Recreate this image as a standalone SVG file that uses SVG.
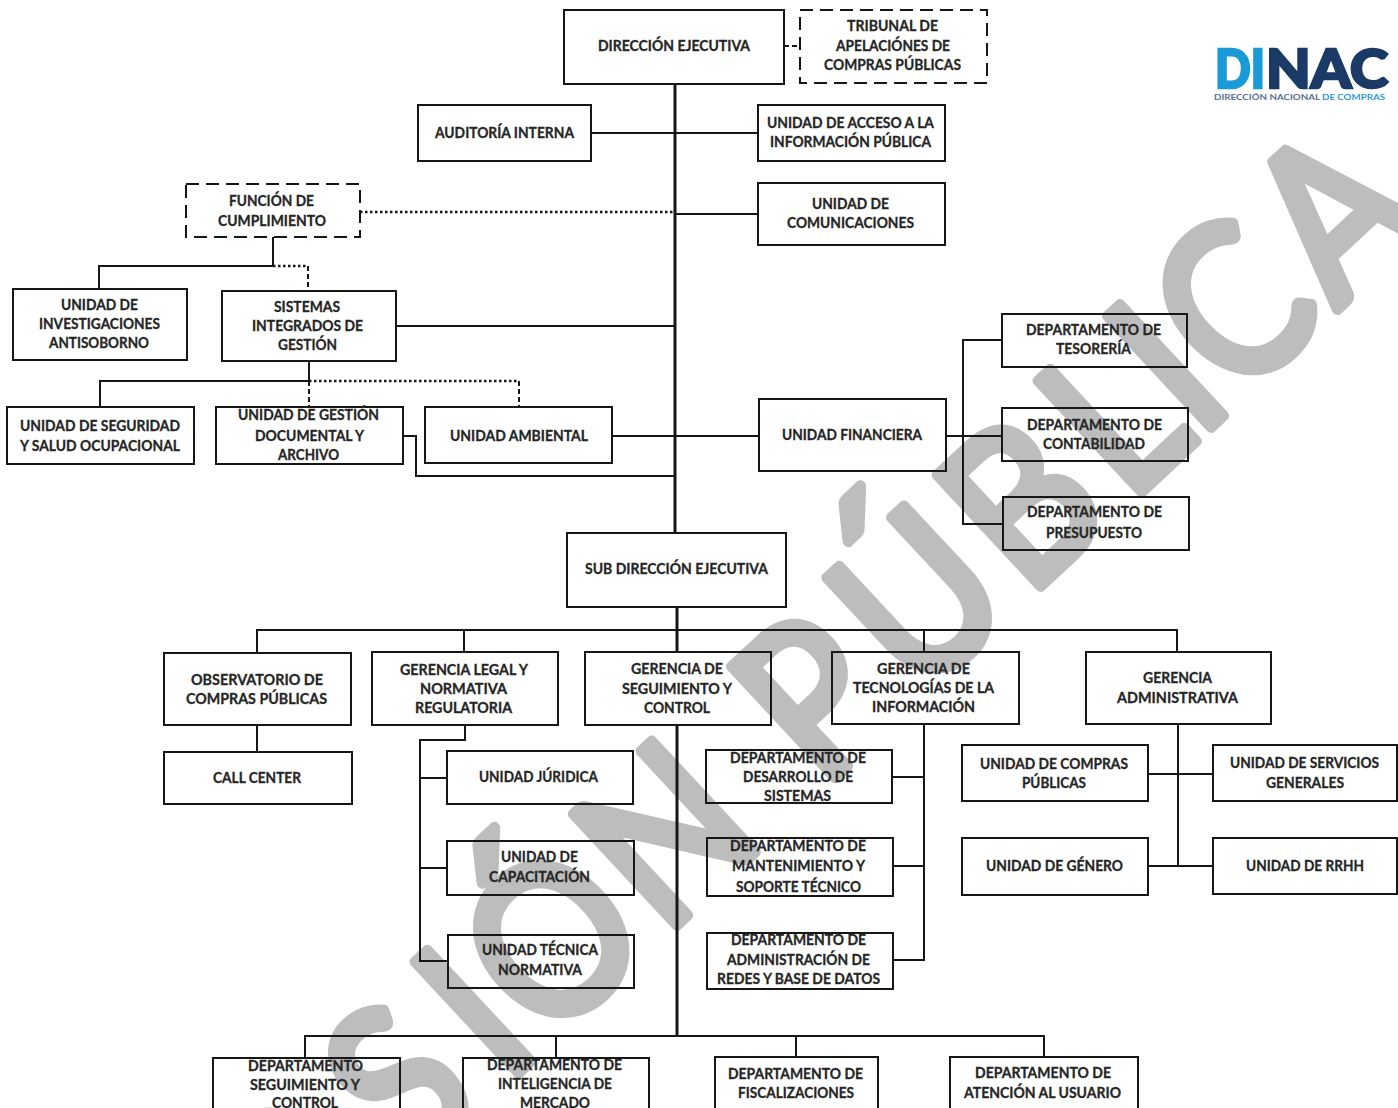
<svg xmlns="http://www.w3.org/2000/svg" width="1398" height="1108" viewBox="0 0 1398 1108">
<style>
.b{fill:none;stroke:#161616;stroke-width:2}
.d{fill:none;stroke:#161616;stroke-width:2;stroke-dasharray:13 7}
text{font-family:Lato,"Open Sans",sans-serif}
.t{font-size:14.5px;font-weight:700;fill:#262626;stroke:#262626;stroke-width:.3px;text-anchor:middle}
.c path{fill:none;stroke:#161616;stroke-width:2}
.c .k{stroke-width:3}
.c .o{stroke-dasharray:2.5 2.5;stroke-width:2.5}
.c .h{stroke-dasharray:5 3}
.w{font-size:212px;fill:#bdbdbd;stroke:#bdbdbd;stroke-width:11px;stroke-linejoin:round}
</style>
<rect width="1398" height="1108" fill="#fff"/>
<text id="watermark" class="w" transform="translate(525,1067) rotate(-43) scale(.88,1)" x="-636 -477 -352 -175 -30 36 216 400 462 612 781 938 1046 1108 1261">VERSIÓN PÚBLICA</text>
<g id="logo">
<text x="1215" y="88" font-size="53" font-weight="900" fill="#1a9ad6" stroke="#1a9ad6" stroke-width="2.5" textLength="50" lengthAdjust="spacingAndGlyphs">DI</text>
<text x="1266" y="88" font-size="53" font-weight="900" fill="#1b3a66" stroke="#1b3a66" stroke-width="2.5" textLength="122" lengthAdjust="spacingAndGlyphs">NAC</text>
<text x="1214" y="100" font-size="8" font-weight="700" fill="#5a6f94" textLength="106" lengthAdjust="spacingAndGlyphs">DIRECCIÓN NACIONAL</text>
<text x="1322" y="100" font-size="8" font-weight="700" fill="#2f97d4" textLength="63" lengthAdjust="spacingAndGlyphs">DE COMPRAS</text>
</g>
<g id="connectors" class="c">
<path class="k" d="M675 84V533M677 607V652M677 725V1036"/>
<path d="M591 133H758M676 214H758M396 326H675M612 436H759M946 436H1002"/>
<path class="h" d="M784 46H800"/>
<path class="o" d="M360 212H675"/>
<path d="M273 237V266H99V289"/>
<path class="o" d="M273 266H308"/><path class="h" d="M308 266V291"/>
<path d="M309 361V381H100V407"/>
<path class="h" d="M309 381V407M519 381V407"/><path class="o" d="M309 381H519"/>
<path d="M403 436H416V476H676"/>
<path d="M1002 340H963V524H1003"/>
<path d="M257 653V630H1177V652M464 630V652M924 630V652"/>
<path d="M257 725V752"/>
<path d="M465 725V740H420V961H448M420 778H447M420 868H447"/>
<path d="M924 724V960H893M893 777H924M893 866H924"/>
<path d="M1178 724V866M1148 774H1213M1148 866H1213"/>
<path d="M305 1058V1036H1044V1057M556 1036V1058M796 1036V1057"/>
</g>
<g id="n1"><rect class="b" x="564" y="10" width="220" height="74"/><text class="t" x="674" y="51" textLength="152" lengthAdjust="spacingAndGlyphs">DIRECCIÓN EJECUTIVA</text></g>
<g id="n2"><rect class="d" x="800" y="10" width="187" height="73"/><text class="t" x="892.5" y="31" textLength="91" lengthAdjust="spacingAndGlyphs">TRIBUNAL DE</text><text class="t" x="893" y="51" textLength="114" lengthAdjust="spacingAndGlyphs">APELACIÓNES DE</text><text class="t" x="892.5" y="70" textLength="137" lengthAdjust="spacingAndGlyphs">COMPRAS PÚBLICAS</text></g>
<g id="n3"><rect class="b" x="418" y="105" width="173" height="56"/><text class="t" x="504.5" y="138" textLength="139" lengthAdjust="spacingAndGlyphs">AUDITORÍA INTERNA</text></g>
<g id="n4"><rect class="b" x="758" y="105" width="187" height="56"/><text class="t" x="850.5" y="128" textLength="167" lengthAdjust="spacingAndGlyphs">UNIDAD DE ACCESO A LA</text><text class="t" x="850.5" y="147" textLength="161" lengthAdjust="spacingAndGlyphs">INFORMACIÓN PÚBLICA</text></g>
<g id="n5"><rect class="b" x="758" y="183" width="187" height="62"/><text class="t" x="850.5" y="209" textLength="77" lengthAdjust="spacingAndGlyphs">UNIDAD DE</text><text class="t" x="850.5" y="228" textLength="127" lengthAdjust="spacingAndGlyphs">COMUNICACIONES</text></g>
<g id="n6"><rect class="d" x="186" y="184" width="174" height="53"/><text class="t" x="271.5" y="206" textLength="85" lengthAdjust="spacingAndGlyphs">FUNCIÓN DE</text><text class="t" x="272" y="226" textLength="108" lengthAdjust="spacingAndGlyphs">CUMPLIMIENTO</text></g>
<g id="n7"><rect class="b" x="13" y="289" width="174" height="71"/><text class="t" x="99.5" y="310" textLength="77" lengthAdjust="spacingAndGlyphs">UNIDAD DE</text><text class="t" x="99.5" y="329" textLength="121" lengthAdjust="spacingAndGlyphs">INVESTIGACIONES</text><text class="t" x="99" y="348" textLength="100" lengthAdjust="spacingAndGlyphs">ANTISOBORNO</text></g>
<g id="n8"><rect class="b" x="222" y="291" width="174" height="70"/><text class="t" x="307" y="312" textLength="66" lengthAdjust="spacingAndGlyphs">SISTEMAS</text><text class="t" x="307.5" y="331" textLength="111" lengthAdjust="spacingAndGlyphs">INTEGRADOS DE</text><text class="t" x="307.5" y="350" textLength="59" lengthAdjust="spacingAndGlyphs">GESTIÓN</text></g>
<g id="n9"><rect class="b" x="7" y="407" width="187" height="57"/><text class="t" x="100" y="431" textLength="160" lengthAdjust="spacingAndGlyphs">UNIDAD DE SEGURIDAD</text><text class="t" x="100" y="451" textLength="160" lengthAdjust="spacingAndGlyphs">Y SALUD OCUPACIONAL</text></g>
<g id="n10"><rect class="b" x="216" y="407" width="187" height="57"/><text class="t" x="308.5" y="420" textLength="141" lengthAdjust="spacingAndGlyphs">UNIDAD DE GESTIÓN</text><text class="t" x="309.5" y="441" textLength="109" lengthAdjust="spacingAndGlyphs">DOCUMENTAL Y</text><text class="t" x="308.5" y="460" textLength="61" lengthAdjust="spacingAndGlyphs">ARCHIVO</text></g>
<g id="n11"><rect class="b" x="425" y="407" width="187" height="56"/><text class="t" x="519" y="441" textLength="138" lengthAdjust="spacingAndGlyphs">UNIDAD AMBIENTAL</text></g>
<g id="n12"><rect class="b" x="759" y="399" width="187" height="72"/><text class="t" x="852" y="440" textLength="140" lengthAdjust="spacingAndGlyphs">UNIDAD FINANCIERA</text></g>
<g id="n13"><rect class="b" x="1002" y="314" width="185" height="53"/><text class="t" x="1093.5" y="335" textLength="135" lengthAdjust="spacingAndGlyphs">DEPARTAMENTO DE</text><text class="t" x="1093.5" y="354" textLength="75" lengthAdjust="spacingAndGlyphs">TESORERÍA</text></g>
<g id="n14"><rect class="b" x="1002" y="408" width="186" height="53"/><text class="t" x="1094.5" y="430" textLength="135" lengthAdjust="spacingAndGlyphs">DEPARTAMENTO DE</text><text class="t" x="1094" y="449" textLength="102" lengthAdjust="spacingAndGlyphs">CONTABILIDAD</text></g>
<g id="n15"><rect class="b" x="1003" y="497" width="186" height="53"/><text class="t" x="1094.5" y="517" textLength="135" lengthAdjust="spacingAndGlyphs">DEPARTAMENTO DE</text><text class="t" x="1094" y="538" textLength="96" lengthAdjust="spacingAndGlyphs">PRESUPUESTO</text></g>
<g id="n16"><rect class="b" x="567" y="533" width="219" height="74"/><text class="t" x="676.5" y="574" textLength="183" lengthAdjust="spacingAndGlyphs">SUB DIRECCIÓN EJECUTIVA</text></g>
<g id="n17"><rect class="b" x="164" y="653" width="187" height="72"/><text class="t" x="257" y="685" textLength="132" lengthAdjust="spacingAndGlyphs">OBSERVATORIO DE</text><text class="t" x="256.5" y="704" textLength="141" lengthAdjust="spacingAndGlyphs">COMPRAS PÚBLICAS</text></g>
<g id="n18"><rect class="b" x="372" y="652" width="186" height="73"/><text class="t" x="464" y="675" textLength="128" lengthAdjust="spacingAndGlyphs">GERENCIA LEGAL Y</text><text class="t" x="463.5" y="694" textLength="87" lengthAdjust="spacingAndGlyphs">NORMATIVA</text><text class="t" x="463.5" y="713" textLength="97" lengthAdjust="spacingAndGlyphs">REGULATORIA</text></g>
<g id="n19"><rect class="b" x="585" y="652" width="186" height="73"/><text class="t" x="677" y="674" textLength="92" lengthAdjust="spacingAndGlyphs">GERENCIA DE</text><text class="t" x="677" y="694" textLength="110" lengthAdjust="spacingAndGlyphs">SEGUIMIENTO Y</text><text class="t" x="677" y="713" textLength="66" lengthAdjust="spacingAndGlyphs">CONTROL</text></g>
<g id="n20"><rect class="b" x="832" y="652" width="187" height="72"/><text class="t" x="923.5" y="674" textLength="93" lengthAdjust="spacingAndGlyphs">GERENCIA DE</text><text class="t" x="923.5" y="693" textLength="141" lengthAdjust="spacingAndGlyphs">TECNOLOGÍAS DE LA</text><text class="t" x="923.5" y="712" textLength="103" lengthAdjust="spacingAndGlyphs">INFORMACIÓN</text></g>
<g id="n21"><rect class="b" x="1086" y="652" width="185" height="72"/><text class="t" x="1177.5" y="683" textLength="69" lengthAdjust="spacingAndGlyphs">GERENCIA</text><text class="t" x="1177.5" y="703" textLength="121" lengthAdjust="spacingAndGlyphs">ADMINISTRATIVA</text></g>
<g id="n22"><rect class="b" x="164" y="752" width="188" height="52"/><text class="t" x="257" y="783" textLength="88" lengthAdjust="spacingAndGlyphs">CALL CENTER</text></g>
<g id="n23"><rect class="b" x="447" y="751" width="186" height="53"/><text class="t" x="538.5" y="782" textLength="119" lengthAdjust="spacingAndGlyphs">UNIDAD JÚRIDICA</text></g>
<g id="n24"><rect class="b" x="447" y="841" width="187" height="54"/><text class="t" x="539.5" y="862" textLength="77" lengthAdjust="spacingAndGlyphs">UNIDAD DE</text><text class="t" x="539.5" y="882" textLength="101" lengthAdjust="spacingAndGlyphs">CAPACITACIÓN</text></g>
<g id="n25"><rect class="b" x="448" y="935" width="186" height="53"/><text class="t" x="540" y="955" textLength="116" lengthAdjust="spacingAndGlyphs">UNIDAD TÉCNICA</text><text class="t" x="540" y="975" textLength="84" lengthAdjust="spacingAndGlyphs">NORMATIVA</text></g>
<g id="n26"><rect class="b" x="706" y="750" width="186" height="53"/><text class="t" x="798" y="763" textLength="136" lengthAdjust="spacingAndGlyphs">DEPARTAMENTO DE</text><text class="t" x="798" y="782" textLength="110" lengthAdjust="spacingAndGlyphs">DESARROLLO DE</text><text class="t" x="797.5" y="801" textLength="67" lengthAdjust="spacingAndGlyphs">SISTEMAS</text></g>
<g id="n27"><rect class="b" x="707" y="838" width="186" height="58"/><text class="t" x="798" y="851" textLength="136" lengthAdjust="spacingAndGlyphs">DEPARTAMENTO DE</text><text class="t" x="798.5" y="871" textLength="133" lengthAdjust="spacingAndGlyphs">MANTENIMIENTO Y</text><text class="t" x="798.5" y="892" textLength="125" lengthAdjust="spacingAndGlyphs">SOPORTE TÉCNICO</text></g>
<g id="n28"><rect class="b" x="707" y="933" width="186" height="56"/><text class="t" x="798.5" y="945" textLength="135" lengthAdjust="spacingAndGlyphs">DEPARTAMENTO DE</text><text class="t" x="798.5" y="965" textLength="143" lengthAdjust="spacingAndGlyphs">ADMINISTRACIÓN DE</text><text class="t" x="798.5" y="984" textLength="163" lengthAdjust="spacingAndGlyphs">REDES Y BASE DE DATOS</text></g>
<g id="n29"><rect class="b" x="962" y="745" width="186" height="56"/><text class="t" x="1054" y="769" textLength="148" lengthAdjust="spacingAndGlyphs">UNIDAD DE COMPRAS</text><text class="t" x="1054" y="788" textLength="64" lengthAdjust="spacingAndGlyphs">PÚBLICAS</text></g>
<g id="n30"><rect class="b" x="1213" y="745" width="184" height="56"/><text class="t" x="1304.5" y="768" textLength="149" lengthAdjust="spacingAndGlyphs">UNIDAD DE SERVICIOS</text><text class="t" x="1305" y="788" textLength="78" lengthAdjust="spacingAndGlyphs">GENERALES</text></g>
<g id="n31"><rect class="b" x="962" y="838" width="186" height="57"/><text class="t" x="1054.5" y="871" textLength="137" lengthAdjust="spacingAndGlyphs">UNIDAD DE GÉNERO</text></g>
<g id="n32"><rect class="b" x="1213" y="838" width="184" height="56"/><text class="t" x="1305" y="871" textLength="118" lengthAdjust="spacingAndGlyphs">UNIDAD DE RRHH</text></g>
<g id="n33"><rect class="b" x="213" y="1058" width="187" height="52"/><text class="t" x="305.5" y="1071" textLength="115" lengthAdjust="spacingAndGlyphs">DEPARTAMENTO</text><text class="t" x="305" y="1090" textLength="110" lengthAdjust="spacingAndGlyphs">SEGUIMIENTO Y</text><text class="t" x="305" y="1108" textLength="66" lengthAdjust="spacingAndGlyphs">CONTROL</text></g>
<g id="n34"><rect class="b" x="463" y="1058" width="186" height="52"/><text class="t" x="554.5" y="1070" textLength="135" lengthAdjust="spacingAndGlyphs">DEPARTAMENTO DE</text><text class="t" x="555" y="1089" textLength="114" lengthAdjust="spacingAndGlyphs">INTELIGENCIA DE</text><text class="t" x="555" y="1108" textLength="70" lengthAdjust="spacingAndGlyphs">MERCADO</text></g>
<g id="n35"><rect class="b" x="715" y="1057" width="163" height="53"/><text class="t" x="795.5" y="1079" textLength="135" lengthAdjust="spacingAndGlyphs">DEPARTAMENTO DE</text><text class="t" x="796" y="1098" textLength="116" lengthAdjust="spacingAndGlyphs">FISCALIZACIONES</text></g>
<g id="n36"><rect class="b" x="950" y="1057" width="188" height="53"/><text class="t" x="1043" y="1078" textLength="136" lengthAdjust="spacingAndGlyphs">DEPARTAMENTO DE</text><text class="t" x="1042.5" y="1098" textLength="157" lengthAdjust="spacingAndGlyphs">ATENCIÓN AL USUARIO</text></g>
</svg>
